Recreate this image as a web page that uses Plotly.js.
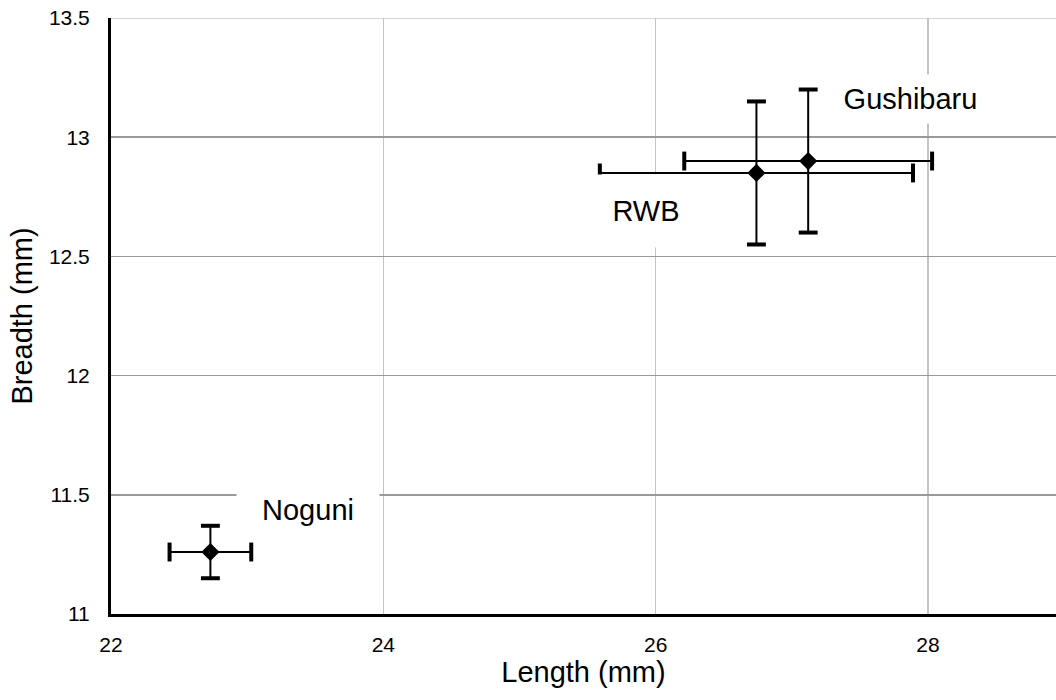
<!DOCTYPE html>
<html>
<head>
<meta charset="utf-8">
<script src="https://cdn.plot.ly/plotly-3.0.1.min.js"></script>
<style>html,body{margin:0;padding:0;background:#fff;}#chart{width:1056px;height:700px;}</style>
</head>
<body>
<div id="chart"></div>
<script>
// Data
const sites = ["Noguni", "RWB", "Gushibaru"];
const lengthMean = [22.73, 26.74, 27.12];
const lengthErr = [0.30, 1.15, 0.91];
const breadthMean = [11.26, 12.85, 12.90];
const breadthErr = [0.11, 0.30, 0.30];
const xTicks = [22, 24, 26, 28];
const yTicks = [11, 11.5, 12, 12.5, 13, 13.5];
const yTickText = ["11", "11.5", "12", "12.5", "13", "13.5"];

const trace = {
  type: "scatter",
  mode: "markers",
  x: lengthMean,
  y: breadthMean,
  text: sites,
  marker: {symbol: "diamond", size: 14, color: "#000"},
  error_x: {type: "data", array: lengthErr, visible: true, color: "#000", thickness: 2, width: 0},
  error_y: {type: "data", array: breadthErr, visible: true, color: "#000", thickness: 2, width: 0},
  hoverinfo: "text+x+y",
  showlegend: false
};

// Thick end caps of the error bars, placed at mean ± error
const capsY = {
  type: "scatter",
  mode: "markers",
  x: lengthMean.concat(lengthMean),
  y: breadthMean.map((v, i) => v + breadthErr[i]).concat(breadthMean.map((v, i) => v - breadthErr[i])),
  marker: {symbol: "line-ew", size: 13.5, line: {color: "#000", width: 4}},
  hoverinfo: "skip",
  showlegend: false
};
const capsX = {
  type: "scatter",
  mode: "markers",
  x: lengthMean.map((v, i) => v + lengthErr[i]).concat(lengthMean.map((v, i) => v - lengthErr[i])),
  y: breadthMean.concat(breadthMean),
  marker: {symbol: "line-ns", size: 13.5, line: {color: "#000", width: 4}},
  hoverinfo: "skip",
  showlegend: false
};

const font = "Arial, 'Liberation Sans', sans-serif";

const layout = {
  width: 1056,
  height: 700,
  margin: {l: 111, r: 0, t: 18, b: 86, pad: 0},
  paper_bgcolor: "#fff",
  plot_bgcolor: "#fff",
  font: {family: font, color: "#000"},
  xaxis: {
    range: [22, 28.94],
    tickvals: xTicks,
    ticktext: xTicks.map(String),
    showgrid: true,
    gridcolor: "#c4c4c4",
    gridwidth: 1.5,
    zeroline: false,
    showline: true,
    linecolor: "#000",
    linewidth: 3,
    ticks: "outside",
    ticklen: 10,
    tickcolor: "rgba(0,0,0,0)",
    tickfont: {size: 21, family: font, color: "#000"},
    title: {text: "Length (mm)", font: {size: 29, family: font, color: "#000"}, standoff: 6},
    automargin: false,
    fixedrange: true
  },
  yaxis: {
    range: [11, 13.5],
    tickvals: yTicks,
    ticktext: yTickText,
    showgrid: true,
    gridcolor: "#9a9a9a",
    gridwidth: 1.5,
    zeroline: false,
    showline: true,
    linecolor: "#000",
    linewidth: 3,
    ticks: "outside",
    ticklen: 14,
    tickcolor: "rgba(0,0,0,0)",
    tickfont: {size: 21, family: font, color: "#000"},
    title: {text: "Breadth (mm)", font: {size: 29, family: font, color: "#000"}, standoff: 8},
    automargin: false,
    fixedrange: true
  },
  shapes: [
    {type: "line", xref: "paper", yref: "y", x0: 0, x1: 1, y0: 13.5, y1: 13.5,
     line: {color: "#d4d4d4", width: 2}, layer: "below"}
  ],
  annotations: [
    {x: 23.45, y: 11.435, xref: "x", yref: "y", text: sites[0], showarrow: false,
     font: {size: 29, family: font, color: "#000"}, bgcolor: "#fff", width: 140, height: 50},
    {x: 25.93, y: 12.69, xref: "x", yref: "y", text: sites[1], showarrow: false,
     font: {size: 29, family: font, color: "#000"}, bgcolor: "#fff", width: 110, height: 70},
    {x: 27.87, y: 13.16, xref: "x", yref: "y", text: sites[2], showarrow: false,
     font: {size: 29, family: font, color: "#000"}, bgcolor: "#fff", width: 165, height: 46}
  ]
};

Plotly.newPlot("chart", [trace, capsY, capsX], layout, {displayModeBar: false, staticPlot: true});
</script>
</body>
</html>
